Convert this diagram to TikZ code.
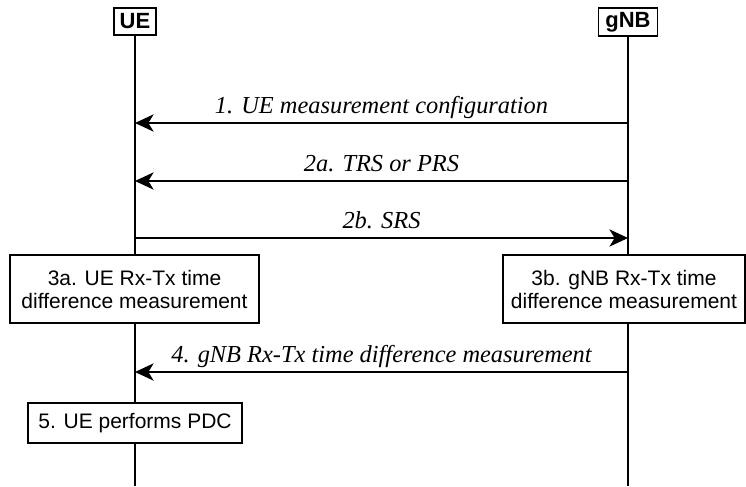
\documentclass[tikz,border=0pt]{standalone}
\usepackage{fontspec}
\setmainfont{Liberation Sans}
\newfontfamily\msgfont{Liberation Serif}
\usetikzlibrary{arrows.meta,positioning}

\begin{document}
\begin{tikzpicture}[x=0.75pt, y=-0.75pt,
    entity/.style={draw, line width=1pt, inner sep=0pt, font=\fontsize{16.5}{18}\selectfont\bfseries},
    stepbox/.style={draw, fill=white, line width=1pt, inner sep=0pt, align=center,
        font=\fontsize{15.75}{17.25}\selectfont},
    msg/.style={inner sep=0pt, text depth=0pt, above=6.75pt,
        font=\fontsize{18.3}{20}\selectfont\msgfont\itshape},
    arr/.style={-{Stealth[length=14pt,width=13pt,inset=4pt]}, line width=1pt}]
    \useasboundingbox (0,0) rectangle (746,486);

    % Entities
    \node[entity, minimum width=31.5pt, minimum height=20.25pt] (ue) at (135,21.5) {UE};
    \node[entity, minimum width=44.25pt, minimum height=21pt] (gnb) at (628,22) {gNB};

    % Lifelines
    \coordinate (ueend) at (135,486);
    \coordinate (gnbend) at (628,486);
    \draw[line width=1pt] (ue) -- (ueend);
    \draw[line width=1pt] (gnb) -- (gnbend);

    % Messages
    \coordinate (ue1) at (135,123);  \coordinate (gnb1) at (628,123);
    \coordinate (ue2) at (135,181);  \coordinate (gnb2) at (628,181);
    \coordinate (ue3) at (135,238);  \coordinate (gnb3) at (628,238);
    \coordinate (ue4) at (135,372);  \coordinate (gnb4) at (628,372);
    \draw[arr] (gnb1) -- node[msg] {1. UE measurement configuration} (ue1);
    \draw[arr] (gnb2) -- node[msg] {2a. TRS or PRS} (ue2);
    \draw[arr] (ue3) -- node[msg] {2b. SRS} (gnb3);
    \draw[arr] (gnb4) -- node[msg] {4. gNB Rx-Tx time difference measurement} (ue4);

    % Steps
    \node[stepbox, minimum width=186.75pt, minimum height=51pt] (ue3a) at (134.5,289)
        {3a. UE Rx-Tx time\\difference measurement};
    \node[stepbox, minimum width=181.5pt, minimum height=51pt] (gnb3b) at (624,289)
        {3b. gNB Rx-Tx time\\difference measurement};
    \node[stepbox, minimum width=160.5pt, minimum height=30pt] (ue5) at (135,423)
        {5. UE performs PDC};
\end{tikzpicture}
\end{document}
